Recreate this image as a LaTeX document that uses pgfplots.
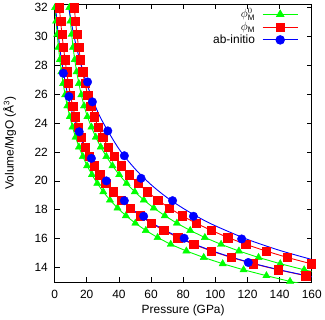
\documentclass[border=0pt]{standalone}
\usepackage{fontspec}
\setmainfont{Liberation Sans}
\usepackage{pgfplots}
\pgfplotsset{compat=1.18}
\definecolor{gcol}{RGB}{0,255,0}
\definecolor{rcol}{RGB}{255,0,0}
\definecolor{bcol}{RGB}{0,0,255}

\begin{document}
\begin{tikzpicture}[font=\fontsize{12}{14}\selectfont]
\begin{axis}[
    scale only axis,
    width=257.7bp, height=278.7bp,
    xmin=0, xmax=160, ymin=13, ymax=32.25,
    xtick={0,20,...,160}, ytick={14,16,...,32},
    tick align=inside, tick pos=both, major tick length=5bp,
    axis line style={line width=0.7pt},
    every tick/.style={black, line width=0.7pt},
    /pgf/number format/assume math mode=true,
    xticklabel style={yshift=-4.5bp},
    yticklabel style={xshift=-3.3bp},
    xlabel={Pressure (GPa)},
    ylabel={Volume/MgO (Å\textsuperscript{3})},
    every axis x label/.style={at={(axis description cs:0.5,-0.114)}, anchor=base},
    every axis y label/.style={at={(axis description cs:-0.159,0.5)}, rotate=90, anchor=base},
    legend cell align=right,
    legend plot pos=right,
    legend image code/.code={\draw[mark repeat=2,mark phase=2,#1] plot coordinates {(0bp,0bp) (17.5bp,0bp) (35bp,0bp)};},
    legend style={draw=none, fill=none, inner sep=0pt, outer sep=0pt,
        at={(axis description cs:0.947,0.984)}, anchor=north east,
        row sep=0.8bp, column sep=6.8bp,
        nodes={inner sep=0.5bp, text height=9bp, text depth=2bp}},
]
% phi_M^0 (green)
\addplot[gcol, line width=0.9pt, forget plot] coordinates {
(0.30,32.000) (0.92,31.057) (1.61,30.141) (2.39,29.253) (3.25,28.390) (4.23,27.553)
(5.31,26.741) (6.53,25.953) (7.89,25.188) (9.42,24.445) (11.12,23.724) (13.02,23.025)
(15.16,22.346) (17.54,21.688) (20.21,21.048) (23.20,20.428) (26.54,19.825) (30.27,19.241)
(34.45,18.674) (39.13,18.123) (44.36,17.589) (50.23,17.070) (56.76,16.567) (64.09,16.079)
(72.28,15.605) (82.0,15.145) (92.8,14.698) (104.6,14.265) (117.6,13.844) (131.8,13.436)
(146.5,13.040) (164.4,12.656)};
\addplot[gcol, only marks, mark=triangle*, mark size=4.2pt, forget plot] coordinates {
(0.30,32.000) (0.92,31.057) (1.61,30.141) (2.39,29.253) (3.25,28.390) (4.23,27.553)
(5.31,26.741) (6.53,25.953) (7.89,25.188) (9.42,24.445) (11.12,23.724) (13.02,23.025)
(15.16,22.346) (17.54,21.688) (20.21,21.048) (23.20,20.428) (26.54,19.825) (30.27,19.241)
(34.45,18.674) (39.13,18.123) (44.36,17.589) (50.23,17.070) (56.76,16.567) (64.09,16.079)
(72.28,15.605) (82.0,15.145) (92.8,14.698) (104.6,14.265) (117.6,13.844) (131.8,13.436)
(146.5,13.040)};
\addplot[gcol, line width=0.9pt, forget plot] coordinates {
(9.2,32.000) (9.8,31.057) (10.6,30.141) (11.5,29.253) (12.5,28.390) (13.7,27.553)
(15.1,26.741) (16.6,25.953) (18.3,25.188) (20.4,24.445) (22.9,23.724) (25.6,23.025)
(28.7,22.346) (32.2,21.688) (36.0,21.048) (40.2,20.428) (44.8,19.825) (49.9,19.241)
(55.5,18.674) (61.7,18.123) (68.6,17.589) (76.1,17.070) (84.4,16.567) (93.5,16.079)
(103.6,15.605) (114.7,15.145) (126.9,14.698) (140.4,14.265) (155.3,13.844) (171.6,13.436)};
\addplot[gcol, only marks, mark=triangle*, mark size=4.2pt, forget plot] coordinates {
(9.2,32.000) (9.8,31.057) (10.6,30.141) (11.5,29.253) (12.5,28.390) (13.7,27.553)
(15.1,26.741) (16.6,25.953) (18.3,25.188) (20.4,24.445) (22.9,23.724) (25.6,23.025)
(28.7,22.346) (32.2,21.688) (36.0,21.048) (40.2,20.428) (44.8,19.825) (49.9,19.241)
(55.5,18.674) (61.7,18.123) (68.6,17.589) (76.1,17.070) (84.4,16.567) (93.5,16.079)
(103.6,15.605) (114.7,15.145) (126.9,14.698) (140.4,14.265) (155.3,13.844)};
% phi_M (red)
\addplot[rcol, line width=0.9pt, forget plot] coordinates {
(3.0,32.000) (3.7,31.057) (4.6,30.141) (5.5,29.253) (6.5,28.390) (7.5,27.553)
(8.6,26.741) (9.8,25.953) (11.2,25.188) (12.8,24.445) (14.6,23.724) (16.6,23.025)
(19.0,22.346) (21.6,21.688) (24.6,21.048) (28.0,20.428) (31.9,19.825) (36.3,19.241)
(41.3,18.674) (46.9,18.123) (53.1,17.589) (60.1,17.070) (67.9,16.567) (76.7,16.079)
(86.5,15.605) (97.5,15.145) (109.8,14.698) (123.6,14.265) (139.0,13.844) (156.2,13.436)
(175.5,13.040)};
\addplot[rcol, only marks, mark=square*, mark size=4.2pt, forget plot] coordinates {
(3.0,32.000) (3.7,31.057) (4.6,30.141) (5.5,29.253) (6.5,28.390) (7.5,27.553)
(8.6,26.741) (9.8,25.953) (11.2,25.188) (12.8,24.445) (14.6,23.724) (16.6,23.025)
(19.0,22.346) (21.6,21.688) (24.6,21.048) (28.0,20.428) (31.9,19.825) (36.3,19.241)
(41.3,18.674) (46.9,18.123) (53.1,17.589) (60.1,17.070) (67.9,16.567) (76.7,16.079)
(86.5,15.605) (97.5,15.145) (109.8,14.698) (123.6,14.265) (139.0,13.844) (156.2,13.436)};
\addplot[rcol, line width=0.9pt, forget plot] coordinates {
(12.3,32.000) (13.0,31.057) (13.9,30.141) (14.9,29.253) (16.1,28.390) (17.4,27.553)
(18.9,26.741) (20.6,25.953) (22.4,25.188) (24.6,24.445) (27.1,23.724) (30.0,23.025)
(33.3,22.346) (37.2,21.688) (41.6,21.048) (46.5,20.428) (51.9,19.825) (57.8,19.241)
(64.2,18.674) (71.4,18.123) (79.3,17.589) (88.0,17.070) (97.6,16.567) (107.8,16.079)
(119.0,15.605) (131.5,15.145) (144.8,14.698) (159.5,14.265) (175.5,13.844)};
\addplot[rcol, only marks, mark=square*, mark size=4.2pt, forget plot] coordinates {
(12.3,32.000) (13.0,31.057) (13.9,30.141) (14.9,29.253) (16.1,28.390) (17.4,27.553)
(18.9,26.741) (20.6,25.953) (22.4,25.188) (24.6,24.445) (27.1,23.724) (30.0,23.025)
(33.3,22.346) (37.2,21.688) (41.6,21.048) (46.5,20.428) (51.9,19.825) (57.8,19.241)
(64.2,18.674) (71.4,18.123) (79.3,17.589) (88.0,17.070) (97.6,16.567) (107.8,16.079)
(119.0,15.605) (131.5,15.145) (144.8,14.698) (159.5,14.265)};
% ab-initio (blue)
\addplot[bcol, line width=0.9pt, smooth, forget plot] coordinates {
(0.68,32) (1,31.59) (2,30.42) (4,28.58) (7,26.58) (10,25.11) (15,23.32) (20,22.00)
(30,20.15) (40,18.86) (50,17.89) (60,17.12) (80,15.95) (100,15.08) (120,14.40)
(140,13.84) (160,13.37)};
\addplot[bcol, only marks, mark=*, mark size=4.3pt, forget plot] coordinates {
(5.4,27.45) (8.9,25.84) (15.3,23.4) (22.9,21.56) (32.2,20.0) (43.4,18.63)
(55.4,17.55) (80.6,16.03) (120.5,14.35)};
\addplot[bcol, line width=0.9pt, smooth, forget plot] coordinates {
(8.76,32) (12,30.06) (16,28.21) (20,26.74) (25,25.26) (30,24.07) (40,22.22)
(50,20.84) (60,19.74) (70,18.84) (80,18.10) (90,17.45) (100,16.89) (120,15.95)
(140,15.19) (160,14.56)};
\addplot[bcol, only marks, mark=*, mark size=4.3pt, forget plot] coordinates {
(20.5,26.85) (23.5,25.47) (33.1,23.46) (43.4,21.74) (53.8,20.18) (73.4,18.63)
(86.4,17.55) (116.4,15.98)};
\addlegendimage{gcol, line width=0.9pt, mark=triangle*, mark size=4.2pt}
\addlegendentry{$\phi^0_{\mathrm{M}}$}
\addlegendimage{rcol, line width=0.9pt, mark=square*, mark size=4.2pt}
\addlegendentry{$\phi_{\mathrm{M}}$}
\addlegendimage{bcol, line width=0.9pt, mark=*, mark size=4.3pt}
\addlegendentry{ab-initio}
\end{axis}
\end{tikzpicture}
\end{document}
